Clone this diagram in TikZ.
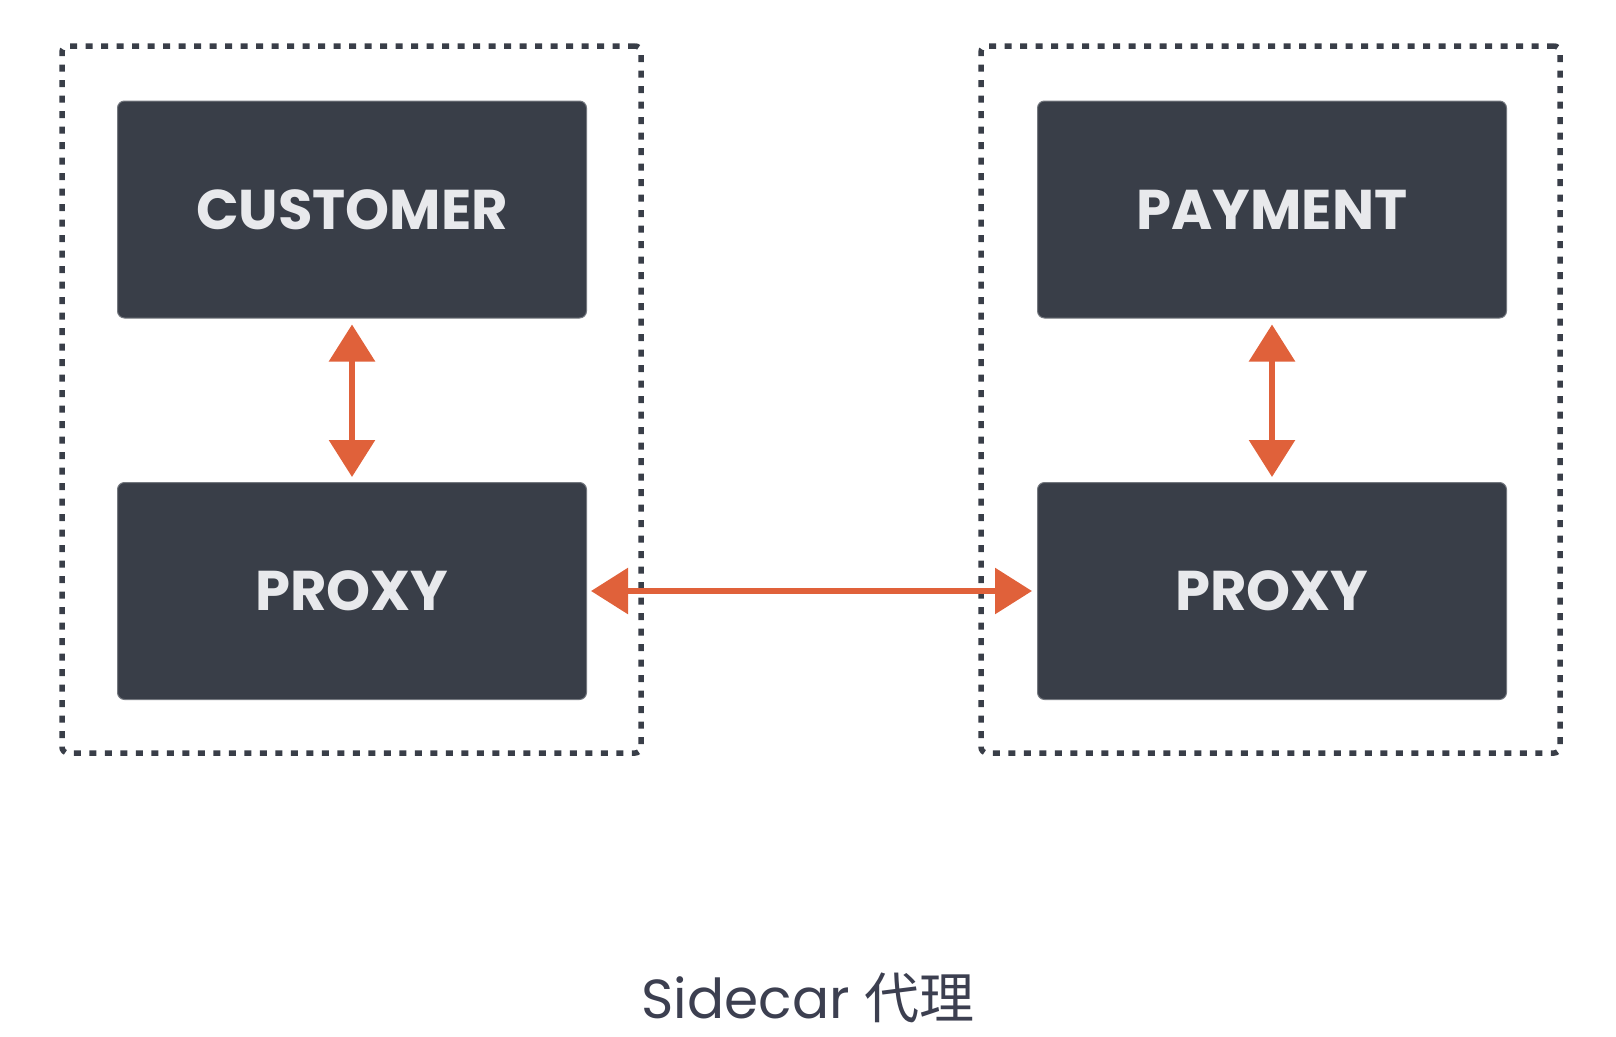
\documentclass[tikz,border=0pt]{standalone}
\usepackage{fontspec}
\usepackage{tikz}
\usepackage{xcolor}
\setmainfont{Poppins}
\newfontfamily\cjk{Noto Sans CJK SC}
\usetikzlibrary{arrows.meta, positioning}

\definecolor{boxgray}{HTML}{393E48}
\definecolor{boxtext}{HTML}{E8E9EC}
\definecolor{linkred}{HTML}{E0613A}
\definecolor{capgray}{HTML}{3C3F50}

\tikzset{
  svc/.style={fill=boxgray, draw=boxgray!70!white, line width=1pt, rounded corners=7pt,
    minimum width=469pt, minimum height=217pt, text=boxtext,
    font=\fontsize{56}{56}\selectfont\bfseries},
  pod/.style={draw=boxgray, line width=5.5pt, dash pattern=on 7pt off 8.5pt,
    rounded corners=6pt, minimum width=579pt, minimum height=707pt},
  link/.style={draw=linkred, line width=6pt, {Triangle[width=45pt,length=37pt]}-{Triangle[width=45pt,length=37pt]}}
}

\begin{document}
\begin{tikzpicture}[x=1pt, y=-1pt]
\useasboundingbox (0,0) rectangle (1616,1036);

% Sidecar pods
\node[pod] (leftpod) at (351.5,399.5) {};
\node[pod] (rightpod) at (1270.5,399.5) {};

% Services and their proxies
\node[svc] (customer) at (352,209.5) {CUSTOMER};
\node[svc] (proxyL) at (352,591) {PROXY};
\node[svc] (payment) at (1272,209.5) {PAYMENT};
\node[svc] (proxyR) at (1272,591) {PROXY};

% Links
\draw[link, shorten <=6pt, shorten >=5pt] (customer) -- (proxyL);
\draw[link, shorten <=6pt, shorten >=5pt] (payment) -- (proxyR);
\draw[link, shorten <=4pt, shorten >=5pt] (proxyL) -- (proxyR);

% Caption
\node[anchor=base, inner sep=0pt, text=capgray, font=\fontsize{55}{55}\selectfont] (caption) at (808,1018) {Sidecar {\cjk 代理}};
\end{tikzpicture}
\end{document}
